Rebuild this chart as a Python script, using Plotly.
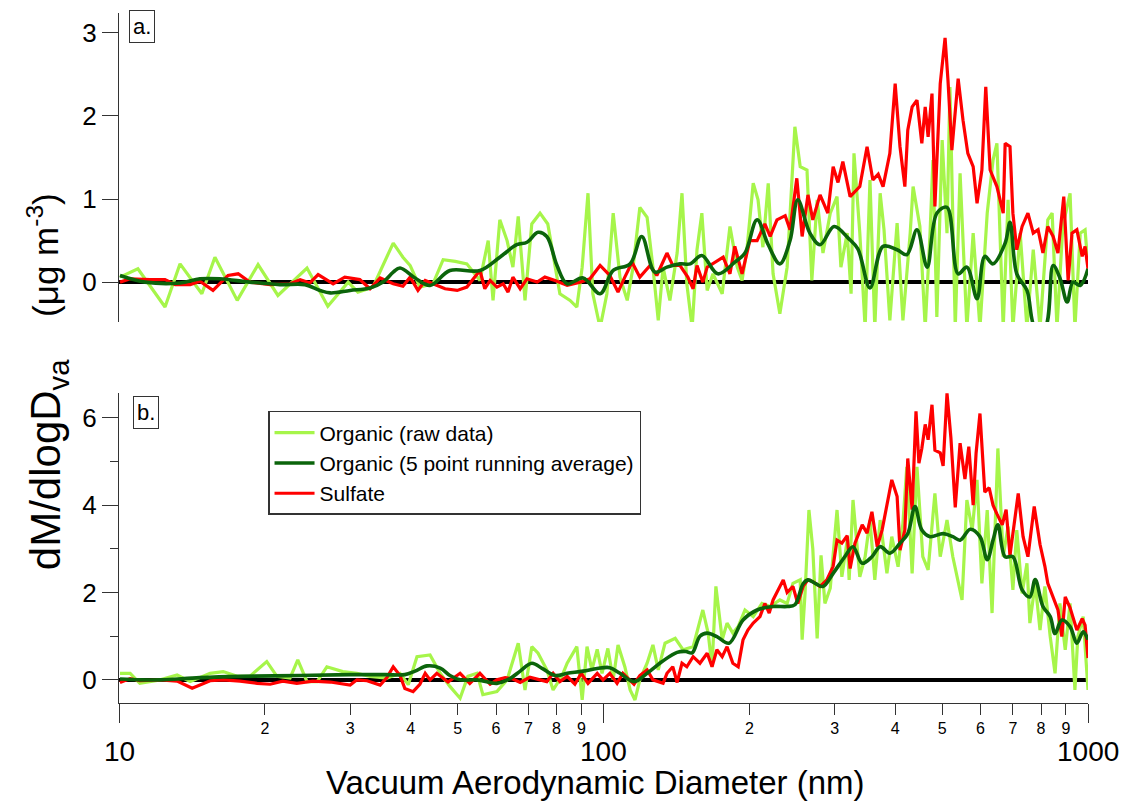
import numpy as np
import plotly.graph_objects as go

# ---------------- Panel a (log10 of vacuum aerodynamic diameter, nm) ----------------
a_raw_logd = [1.002,1.039,1.095,1.126,1.171,1.198,1.244,1.287,1.328,1.388,1.431,1.473,1.493,1.524,1.566,1.586,1.601,1.621,1.648,1.669,
              1.694,1.718,1.745,1.762,1.772,1.786,1.801,1.813,1.824,1.838,1.852,1.869,1.885,1.896,1.910,1.931,1.945,1.956,1.968,1.978,
              1.993,2.007,2.020,2.034,2.049,2.061,2.075,2.090,2.102,2.113,2.123,2.137,2.152,2.162,2.172,2.183,2.193,2.203,2.214,2.226,
              2.245,2.261,2.276,2.286,2.296,2.309,2.319,2.329,2.340,2.350,2.364,2.379,2.395,2.406,2.420,2.430,2.441,2.453,2.468,2.482,
              2.490,2.503,2.511,2.517,2.529,2.540,2.550,2.560,2.571,2.579,2.591,2.606,2.618,2.633,2.639,2.653,2.664,2.674,2.680,2.688,
              2.699,2.709,2.715,2.726,2.736,2.750,2.763,2.777,2.792,2.804,2.812,2.825,2.835,2.845,2.860,2.874,2.887,2.901,2.917,2.926,
              2.936,2.948,2.963,2.973,2.984,2.994,3.000]
a_raw_val = [0.06,0.16,-0.30,0.22,-0.14,0.30,-0.22,0.21,-0.16,0.17,-0.29,0.0,-0.12,-0.06,0.47,0.30,0.20,-0.06,-0.02,0.27,
             0.25,0.22,0.02,0.50,-0.22,0.75,0.50,0.18,0.79,-0.22,0.70,0.83,0.70,0.35,-0.14,-0.22,-0.30,0.18,1.07,-0.14,
             -0.55,-0.14,0.83,0.06,-0.22,0.18,0.90,0.78,0.18,-0.46,0.18,-0.22,0.35,1.07,-0.02,-0.55,0.39,0.83,-0.10,0.10,
             -0.14,0.67,0.18,0.02,0.39,1.19,0.99,0.42,1.19,0.10,-0.38,0.18,1.87,1.39,1.35,0.02,0.99,0.35,0.83,1.03,
             0.18,0.59,-0.14,1.55,0.59,-0.55,1.23,-0.55,1.07,0.63,-0.46,0.71,-0.46,0.59,1.15,0.67,-0.55,0.59,1.47,-0.42,
             1.71,0.59,2.35,-0.55,1.31,-0.55,0.59,-0.55,0.83,1.47,1.67,-0.55,0.99,-0.55,0.59,-0.55,0.39,-0.55,0.75,0.83,
             -0.55,0.67,1.07,-0.55,0.59,0.63,0.18]

a_avg_logd = [1.002,1.054,1.126,1.167,1.208,1.270,1.332,1.384,1.415,1.436,1.477,1.518,1.545,1.566,1.580,1.611,1.642,1.683,1.745,1.786,
              1.821,1.842,1.865,1.883,1.904,1.925,1.958,1.993,2.020,2.055,2.079,2.106,2.131,2.158,2.179,2.203,2.236,2.271,2.292,2.317,
              2.340,2.364,2.385,2.401,2.426,2.447,2.476,2.505,2.525,2.550,2.577,2.606,2.626,2.647,2.668,2.688,2.709,2.732,2.750,2.771,
              2.787,2.804,2.829,2.839,2.853,2.874,2.891,2.911,2.928,2.942,2.957,2.969,2.984,3.000]
a_avg_val = [0.08,0.0,-0.01,0.04,0.04,0.0,-0.03,-0.03,-0.10,-0.13,-0.10,-0.07,0.0,0.12,0.17,0.05,-0.04,0.14,0.14,0.30,
             0.45,0.48,0.60,0.55,0.20,-0.02,0.05,-0.14,0.14,0.22,0.55,0.12,0.18,0.22,0.22,0.32,0.10,0.24,0.35,0.75,
             0.45,0.22,0.50,0.99,0.59,0.45,0.67,0.53,0.40,-0.07,0.43,0.39,0.33,0.63,0.18,0.83,0.90,0.10,0.18,-0.20,
             0.31,0.22,0.47,0.72,0.10,-0.10,-0.55,-0.55,0.20,0.05,-0.24,0.0,-0.04,0.16]

a_sulf_logd = [1.002,1.023,1.064,1.095,1.116,1.147,1.167,1.194,1.225,1.246,1.270,1.312,1.353,1.374,1.394,1.411,1.442,1.466,1.497,1.518,
               1.539,1.566,1.586,1.601,1.617,1.632,1.648,1.673,1.698,1.718,1.745,1.755,1.766,1.780,1.793,1.803,1.813,1.828,1.842,1.863,
               1.879,1.900,1.925,1.952,1.972,1.993,2.013,2.030,2.044,2.059,2.075,2.096,2.110,2.131,2.143,2.158,2.174,2.185,2.193,2.205,
               2.214,2.226,2.247,2.261,2.271,2.286,2.302,2.317,2.333,2.344,2.358,2.375,2.385,2.399,2.410,2.422,2.432,2.447,2.463,2.474,
               2.484,2.494,2.509,2.529,2.544,2.556,2.567,2.577,2.591,2.602,2.612,2.622,2.628,2.637,2.647,2.657,2.664,2.670,2.678,2.684,
               2.695,2.705,2.711,2.719,2.732,2.742,2.752,2.763,2.771,2.781,2.789,2.798,2.812,2.825,2.829,2.839,2.845,2.853,2.864,2.876,
               2.887,2.897,2.907,2.917,2.928,2.938,2.950,2.959,2.967,2.977,2.988,2.994,3.000]
a_sulf_val = [0.0,0.04,0.03,0.03,-0.03,-0.03,0.01,-0.10,0.08,0.10,0.0,-0.03,-0.02,0.03,-0.01,0.09,-0.02,0.06,0.03,-0.08,
              0.05,-0.02,-0.05,0.06,-0.10,0.02,-0.02,-0.08,-0.10,-0.06,0.14,-0.08,0.02,-0.06,-0.02,-0.12,0.06,-0.08,0.04,0.0,
              0.06,0.02,-0.04,0.0,0.04,0.20,0.08,-0.12,0.06,0.24,0.06,0.20,0.08,0.35,0.20,0.20,0.06,-0.08,0.20,0.0,
              0.18,0.22,0.30,0.10,0.43,0.10,0.50,0.50,0.70,0.55,0.75,0.80,0.63,1.25,0.55,1.05,0.75,1.05,0.83,1.39,
              1.20,1.45,1.03,1.15,1.63,1.23,1.30,1.15,1.55,2.39,1.63,1.15,1.83,2.11,2.19,1.67,2.11,1.75,2.27,0.91,
              2.39,2.94,2.43,1.59,2.45,1.95,1.55,1.39,0.95,1.35,2.35,1.35,1.15,0.83,1.67,1.63,0.83,0.39,0.67,0.83,
              0.59,0.63,0.35,0.67,0.55,0.35,1.03,0.02,0.59,0.63,0.31,0.43,0.16]

# ---------------- Panel b ----------------
b_raw_logd = [1.002,1.023,1.043,1.085,1.120,1.147,1.188,1.215,1.244,1.270,1.305,1.326,1.353,1.369,1.388,1.409,1.429,1.462,1.491,1.518,
              1.553,1.580,1.597,1.615,1.642,1.663,1.683,1.704,1.720,1.739,1.751,1.780,1.801,1.824,1.838,1.852,1.865,1.883,1.896,1.914,
              1.925,1.945,1.956,1.966,1.976,1.987,1.997,2.009,2.020,2.030,2.044,2.055,2.065,2.075,2.090,2.102,2.113,2.127,2.148,2.164,
              2.185,2.205,2.216,2.224,2.232,2.245,2.255,2.267,2.278,2.292,2.309,2.327,2.344,2.364,2.379,2.391,2.406,2.410,2.416,2.424,
              2.432,2.441,2.449,2.457,2.468,2.482,2.492,2.503,2.507,2.515,2.529,2.540,2.550,2.560,2.571,2.585,2.595,2.608,2.618,2.626,
              2.637,2.647,2.659,2.670,2.684,2.695,2.709,2.721,2.740,2.750,2.761,2.771,2.781,2.792,2.802,2.814,2.825,2.835,2.845,2.853,
              2.864,2.874,2.880,2.891,2.901,2.911,2.922,2.932,2.942,2.953,2.963,2.973,2.979,2.990,3.000]
b_raw_val = [0.15,0.15,-0.08,0.0,0.11,-0.04,0.15,0.19,0.08,0.08,0.42,0.08,0.04,0.46,-0.04,-0.04,0.30,0.19,0.15,0.08,
             0.04,0.15,-0.11,0.53,0.57,0.15,-0.15,-0.42,0.08,0.15,-0.34,-0.27,0.0,0.84,-0.23,0.76,0.61,0.23,-0.23,0.08,
             0.38,0.76,-0.46,0.76,0.23,0.70,0.15,0.72,0.0,0.80,0.30,-0.23,-0.46,0.0,0.38,0.80,0.23,0.84,0.95,0.69,
             0.76,1.60,1.07,0.30,2.14,0.92,1.30,1.07,1.22,1.60,1.45,1.75,1.68,1.83,1.75,2.21,2.29,0.92,1.98,3.89,
             3.00,0.95,2.85,1.75,2.10,3.89,2.36,3.20,2.29,4.12,2.36,2.82,3.66,2.29,3.66,2.44,3.28,2.59,3.59,4.88,
             2.44,4.88,2.82,2.52,4.27,2.82,3.66,2.82,1.83,4.12,3.43,4.58,2.21,3.89,1.53,5.30,2.82,3.51,2.06,3.43,
             1.98,2.67,1.30,2.21,1.14,2.14,0.99,0.15,1.75,0.69,1.75,-0.23,0.99,1.45,-0.23]

b_avg_logd = [1.002,1.043,1.085,1.167,1.250,1.374,1.477,1.549,1.590,1.611,1.636,1.663,1.683,1.704,1.739,1.780,1.807,1.828,1.852,1.875,
              1.900,1.925,1.958,1.987,2.013,2.034,2.063,2.092,2.121,2.152,2.170,2.183,2.199,2.214,2.234,2.259,2.288,2.317,2.350,2.379,
              2.395,2.412,2.422,2.437,2.453,2.474,2.498,2.515,2.534,2.554,2.571,2.591,2.612,2.628,2.643,2.657,2.674,2.701,2.721,2.736,
              2.757,2.777,2.792,2.804,2.814,2.829,2.845,2.864,2.880,2.891,2.907,2.922,2.932,2.946,2.963,2.977,2.990,3.000]
b_avg_val = [0.02,0.0,0.0,0.05,0.08,0.10,0.12,0.12,0.12,0.20,0.32,0.27,0.10,0.0,0.0,-0.08,0.03,0.20,0.38,0.25,
             0.10,0.15,0.20,0.26,0.28,0.15,-0.04,0.17,0.42,0.63,0.65,0.62,1.00,1.07,0.99,0.84,1.37,1.60,1.68,1.68,
             1.72,2.20,2.29,2.21,2.14,2.44,2.82,3.05,2.67,2.82,3.05,2.90,3.13,3.35,3.97,3.43,3.28,3.35,3.28,3.20,
             3.45,3.28,2.75,3.20,3.55,2.82,2.82,2.06,1.90,2.30,1.68,1.45,1.06,1.37,1.22,0.84,1.10,0.92]

b_sulf_logd = [1.002,1.023,1.043,1.085,1.120,1.151,1.188,1.215,1.250,1.285,1.312,1.338,1.367,1.400,1.436,1.477,1.491,1.512,1.539,1.553,
               1.566,1.580,1.590,1.607,1.621,1.632,1.642,1.656,1.679,1.704,1.724,1.745,1.766,1.780,1.797,1.813,1.828,1.848,1.869,1.883,
               1.896,1.910,1.925,1.941,1.954,1.968,1.987,1.999,2.013,2.028,2.040,2.055,2.063,2.075,2.090,2.102,2.123,2.131,2.143,2.152,
               2.162,2.172,2.185,2.199,2.214,2.224,2.234,2.245,2.255,2.267,2.278,2.288,2.298,2.309,2.323,2.333,2.342,2.350,2.360,2.371,
               2.379,2.391,2.401,2.412,2.422,2.432,2.447,2.461,2.474,2.482,2.492,2.503,2.509,2.519,2.534,2.544,2.554,2.565,2.575,2.585,
               2.595,2.606,2.612,2.622,2.628,2.637,2.645,2.651,2.657,2.664,2.670,2.678,2.684,2.695,2.701,2.709,2.717,2.726,2.736,2.746,
               2.754,2.763,2.769,2.777,2.787,2.796,2.804,2.812,2.823,2.831,2.839,2.856,2.866,2.876,2.889,2.901,2.911,2.917,2.928,2.938,
               2.946,2.953,2.963,2.977,2.988,2.994,3.000]
b_sulf_val = [-0.06,0.03,-0.02,0.0,-0.03,-0.19,-0.02,0.0,-0.03,-0.08,-0.10,-0.03,-0.08,-0.03,-0.05,-0.12,0.0,-0.02,-0.12,0.05,
              0.30,0.10,-0.20,-0.27,-0.10,0.15,0.0,0.15,-0.05,0.15,-0.08,0.15,-0.10,0.0,0.05,0.02,-0.06,0.06,0.0,-0.04,
              0.15,-0.04,0.08,-0.10,0.15,-0.08,0.15,0.0,0.15,-0.08,0.15,0.0,-0.10,0.10,0.23,0.0,-0.08,0.15,0.30,-0.06,
              0.38,0.30,0.53,0.38,0.61,0.30,0.69,0.53,0.76,0.38,0.30,0.92,1.14,1.30,1.45,1.75,1.53,1.83,2.06,2.29,
              2.00,2.14,1.75,2.14,2.29,2.25,2.14,2.29,2.60,3.20,3.13,3.30,2.55,3.13,3.55,3.36,3.85,3.05,3.43,4.04,
              4.58,4.20,2.97,3.43,5.07,3.90,6.15,4.96,5.30,5.85,5.50,6.30,5.26,5.20,4.90,6.56,5.55,3.95,5.42,4.60,
              5.34,4.00,5.19,6.10,4.30,4.40,4.00,3.80,3.55,3.90,2.85,4.27,3.28,2.82,3.97,3.10,2.60,2.21,1.90,1.60,
              0.99,1.90,1.65,1.14,1.40,1.25,0.50]

series_names = ["Organic (raw data)", "Organic (5 point running average)", "Sulfate"]
x_minor_labels = [20, 30, 40, 50, 60, 70, 80, 90, 200, 300, 400, 500, 600, 700, 800, 900]
x_major_labels = [10, 100, 1000]

for xs, ys in [(a_raw_logd, a_raw_val), (a_avg_logd, a_avg_val), (a_sulf_logd, a_sulf_val),
               (b_raw_logd, b_raw_val), (b_avg_logd, b_avg_val), (b_sulf_logd, b_sulf_val)]:
    assert len(xs) == len(ys), (len(xs), len(ys))

LIGHT = "#a6f54a"
DARK = "#0b640b"
RED = "#ff0000"
FONT = "Liberation Sans, Arial, sans-serif"
AXC = "#333333"

fig = go.Figure()

def add(logd, val, color, width, name, xa, ya, show, rank, shape="linear"):
    fig.add_trace(go.Scatter(
        x=10 ** np.array(logd), y=val, mode="lines", name=name,
        line=dict(color=color, width=width, shape=shape),
        xaxis=xa, yaxis=ya, showlegend=show, legendrank=rank, hoverinfo="skip"))

# panel a
add(a_raw_logd, a_raw_val, LIGHT, 3.2, series_names[0], "x", "y", False, 1)
add(a_sulf_logd, a_sulf_val, RED, 3.2, series_names[2], "x", "y", False, 3)
add(a_avg_logd, a_avg_val, DARK, 3.6, series_names[1], "x", "y", False, 2, "spline")
# panel b
add(b_raw_logd, b_raw_val, LIGHT, 3.2, series_names[0], "x2", "y2", True, 1)
add(b_sulf_logd, b_sulf_val, RED, 3.2, series_names[2], "x2", "y2", True, 3)
add(b_avg_logd, b_avg_val, DARK, 3.6, series_names[1], "x2", "y2", True, 2, "spline")

yax_common = dict(showgrid=False, ticks="outside", ticklen=16, tickwidth=1, tickcolor=AXC,
                  showline=True, linecolor=AXC, linewidth=1, zeroline=True,
                  zerolinecolor="black", zerolinewidth=3.5,
                  tickfont=dict(size=26, color="black", family=FONT))

fig.update_layout(
    width=1127, height=804,
    margin=dict(l=119, r=39, t=13, b=101),
    paper_bgcolor="white", plot_bgcolor="white",
    font=dict(family=FONT, color="black"),
    xaxis=dict(type="log", range=[1, 3], anchor="y", domain=[0, 1], visible=False, showgrid=False),
    yaxis=dict(domain=[0.5522, 1.0], range=[-0.48, 3.24], tickvals=[0, 1, 2, 3], anchor="x", **yax_common),
    xaxis2=dict(type="log", range=[1, 3], anchor="y2", domain=[0, 1], showgrid=False,
                tickvals=x_minor_labels, ticktext=[str(v)[0] for v in x_minor_labels],
                ticks="outside", ticklen=11, tickwidth=1, tickcolor=AXC,
                showline=True, linecolor=AXC, linewidth=1, zeroline=False,
                tickfont=dict(size=16, color="black", family=FONT),
                minor=dict(tickvals=x_major_labels, ticks="outside", ticklen=19, tickwidth=1, tickcolor=AXC)),
    yaxis2=dict(domain=[0.0, 0.4493], range=[-0.53, 6.57], tickvals=[0, 2, 4, 6], anchor="x2",
                minor=dict(dtick=1, ticks="outside", ticklen=8, tickwidth=1, tickcolor=AXC), **yax_common),
    legend=dict(x=0.1538, y=0.4232, xanchor="left", yanchor="top",
                bordercolor="#333333", borderwidth=1.5, bgcolor="white",
                font=dict(size=21, family=FONT, color="black"),
                traceorder="normal", tracegroupgap=0, itemwidth=40),
    showlegend=True,
)

ann = []
for v in x_major_labels:
    ann.append(dict(text=str(v), xref="x2", x=np.log10(v), yref="paper", y=-0.070,
                    xanchor="center", yanchor="middle", showarrow=False,
                    font=dict(size=28, family=FONT, color="black")))
ann.append(dict(text="Vacuum Aerodynamic Diameter (nm)", xref="paper", x=0.492, yref="paper", y=-0.115,
                xanchor="center", yanchor="middle", showarrow=False,
                font=dict(size=33, family=FONT, color="black")))
# y-axis title, drawn in two parts as in the original (larger quantity, smaller units)
ann.append(dict(text="dM/dlogD<sub>va</sub>", xref="paper", x=-0.072, yref="paper", y=0.345,
                xanchor="center", yanchor="middle", textangle=-90, showarrow=False,
                font=dict(size=42, family=FONT, color="black")))
ann.append(dict(text="(μg m<sup>-3</sup>)", xref="paper", x=-0.078, yref="paper", y=0.650,
                xanchor="center", yanchor="middle", textangle=-90, showarrow=False,
                font=dict(size=35, family=FONT, color="black")))
ann.append(dict(text="a.", xref="paper", x=0.0237, yref="paper", y=0.980, xanchor="center", yanchor="middle",
                showarrow=False, bordercolor="#333333", borderwidth=1, borderpad=3, bgcolor="white",
                font=dict(size=22, family=FONT, color="black")))
ann.append(dict(text="b.", xref="paper", x=0.0279, yref="paper", y=0.4217, xanchor="center", yanchor="middle",
                showarrow=False, bordercolor="#333333", borderwidth=1, borderpad=3, bgcolor="white",
                font=dict(size=22, family=FONT, color="black")))
fig.update_layout(annotations=ann)

fig.write_html("out.html")
